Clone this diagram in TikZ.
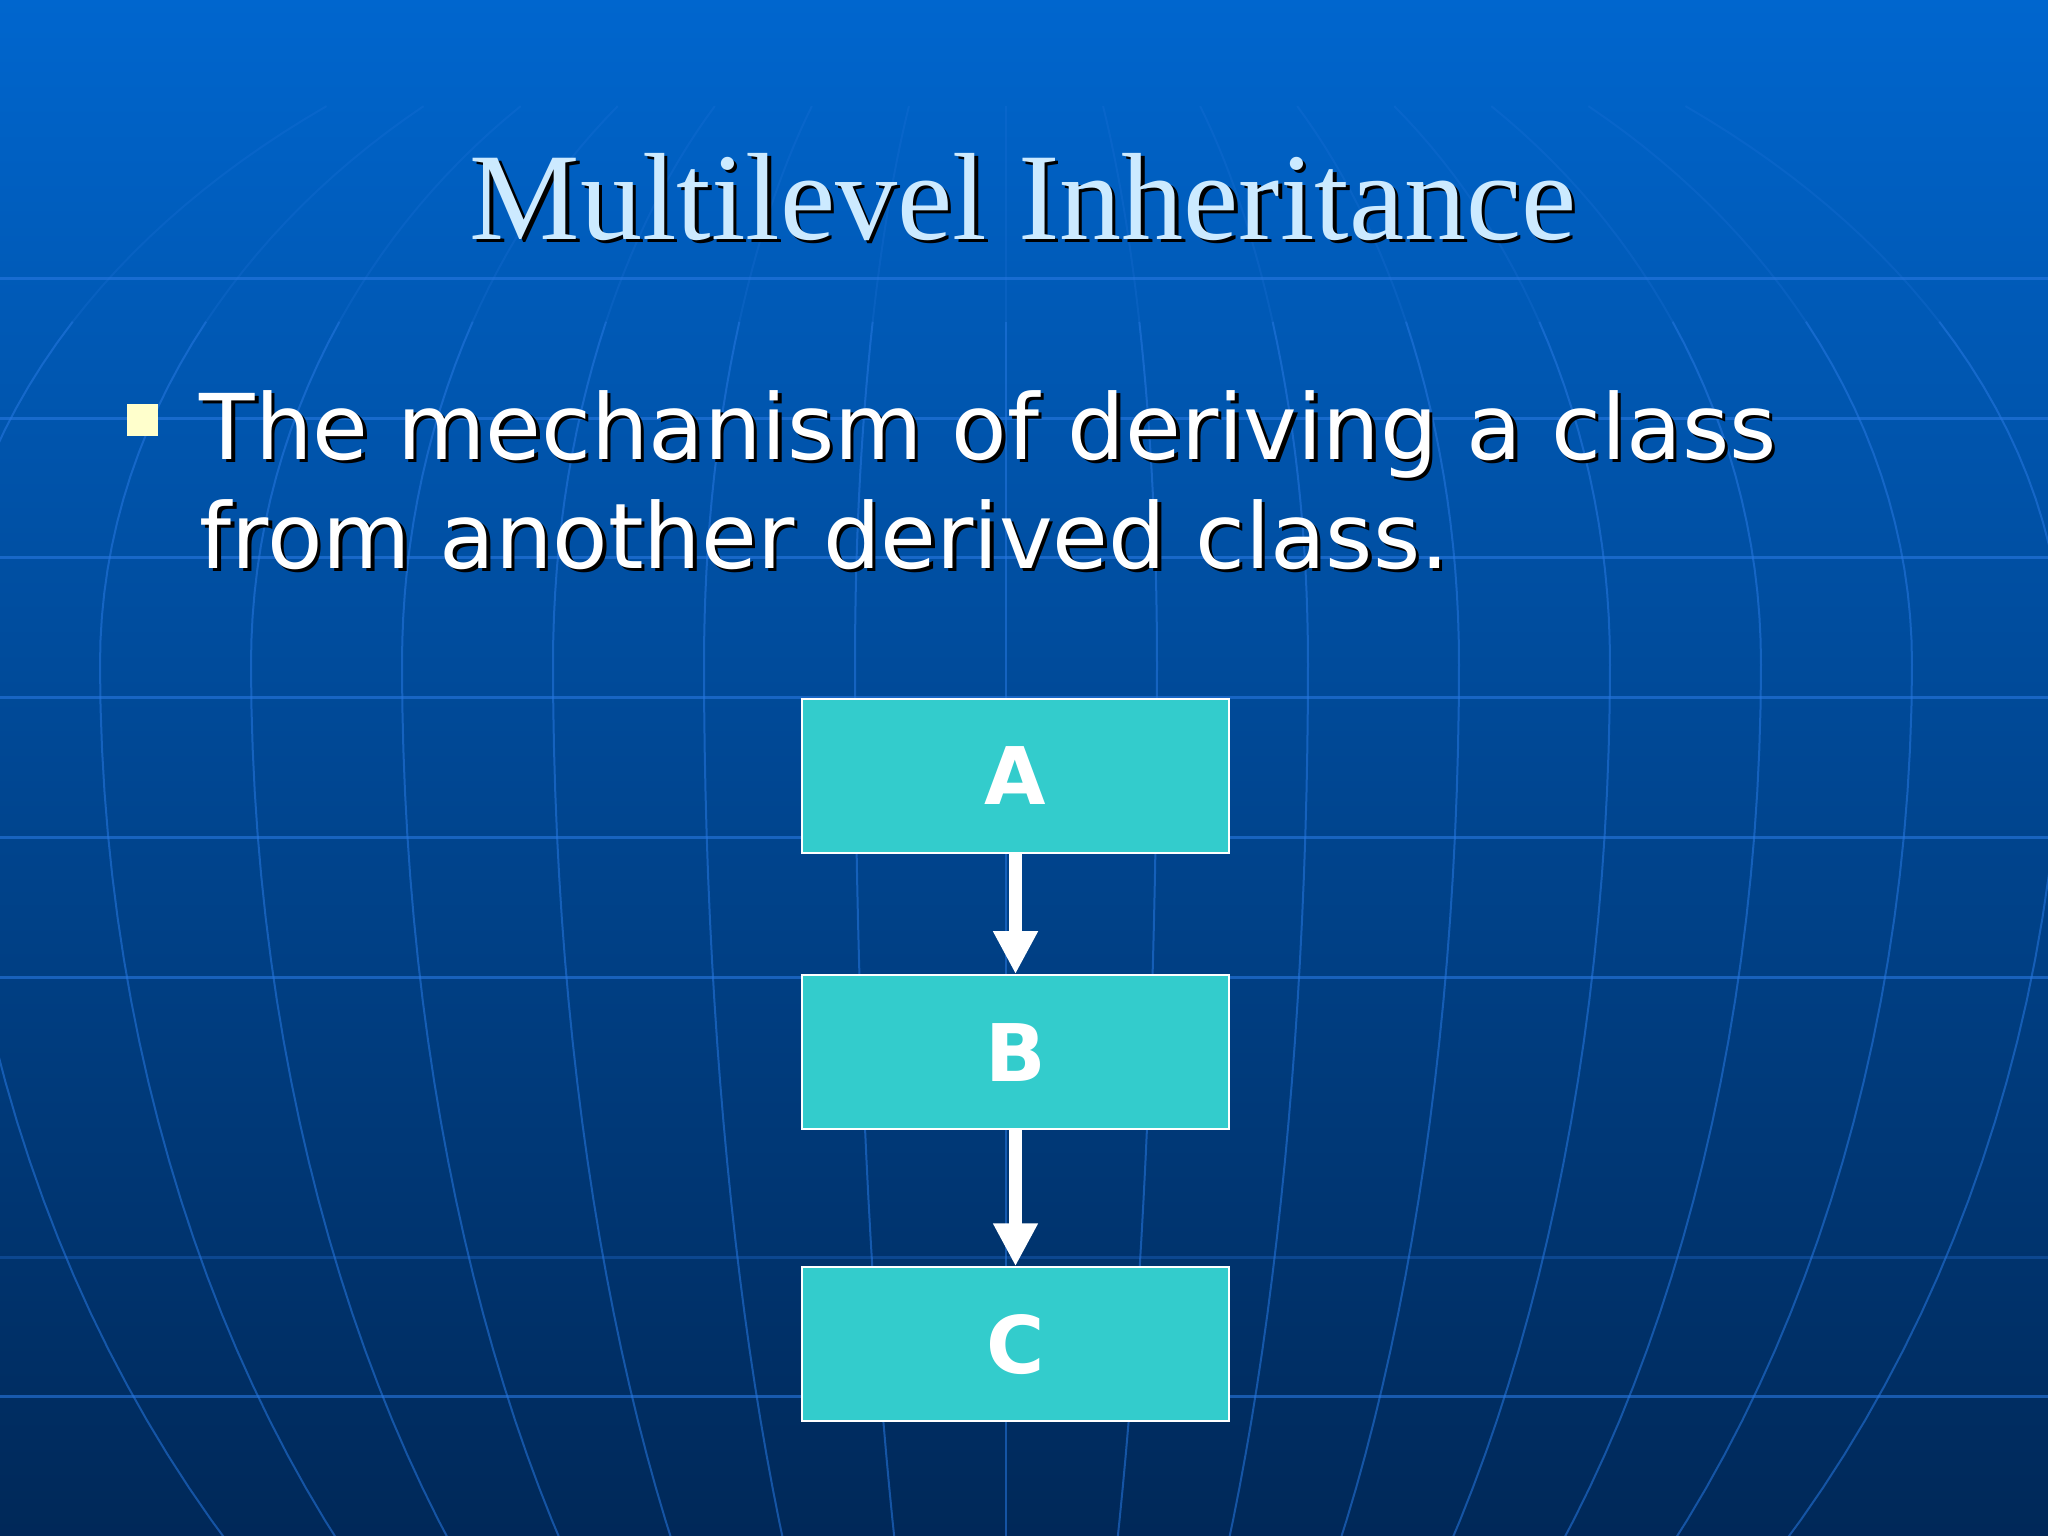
\documentclass[tikz,border=0pt]{standalone}
\usepackage{fontspec}
\newfontfamily\titlefont{Liberation Serif}
\newfontfamily\bodyfont{DejaVu Sans}
\usetikzlibrary{arrows.meta,positioning}
\definecolor{bgtop}{RGB}{0,102,206}
\definecolor{bgmid}{RGB}{0,72,148}
\definecolor{bgbot}{RGB}{0,40,88}
\definecolor{gridblue}{RGB}{40,120,225}
\definecolor{titleblue}{RGB}{204,234,255}
\definecolor{bulletyellow}{RGB}{255,255,204}
\definecolor{boxteal}{RGB}{51,204,204}
\newcommand{\shadownode}[4]{\node[#1,text=black,xshift=0.035cm,yshift=-0.035cm] at (#3) {#4};
  \node[#1] (#2) at (#3) {#4};}

\begin{document}
\begin{tikzpicture}[x=0.01cm,y=-0.01cm,
  classbox/.style={draw=white,line width=0.02cm,fill=boxteal,minimum width=4.27cm,minimum height=1.54cm,
    inner sep=0pt,text=white,font=\bodyfont\bfseries\fontsize{22.6}{27}\selectfont},
  inherit/.style={-{Triangle[length=0.43cm,width=0.42cm]},white,line width=0.13cm},
  titletext/.style={anchor=base,inner sep=0pt,text=titleblue,font=\titlefont\fontsize{35.3}{42}\selectfont},
  bodytext/.style={anchor=base west,inner sep=0pt,text=white,font=\bodyfont\fontsize{25.8}{31}\selectfont},
  parallel/.style={gridblue,line width=0.03cm,opacity=0.6},
  meridian/.style={gridblue,line width=0.02cm,opacity=0.55}]
\useasboundingbox (0,0) rectangle (2048,1536);
\shade[top color=bgtop,middle color=bgmid,bottom color=bgbot] (0,0) rectangle (2048,1536);
\begin{scope}
\clip (0,0) rectangle (2048,1536);
\foreach \y in {278,418,557,697,837,977,1396}
  \draw[parallel] (0,\y) -- (2048,\y);
\draw[parallel,opacity=0.3] (0,1257) -- (2048,1257);
\foreach \k in {-7,...,7} {
  \draw[meridian] plot[domain=-45:28,samples=40] ({1006+151*(\k)*cos(\x)},{663-(\x>0 ? 727 : 1300)*sin(\x)});
  \draw[meridian,opacity=0.2] plot[domain=28:50,samples=15] ({1006+151*(\k)*cos(\x)},{663-727*sin(\x)});
}
\end{scope}

\shadownode{titletext}{title}{1023,239}{Multilevel Inheritance}
\node[fill=bulletyellow,minimum width=0.31cm,minimum height=0.32cm,inner sep=0pt] (bullet) at (142.5,420) {};
\shadownode{bodytext}{line1}{199,459}{The mechanism of deriving a class}
\shadownode{bodytext}{line2}{199,568}{from another derived class.}

\node[classbox] (A) at (1015.5,776) {A};
\node[classbox,below=1.2cm of A] (B) {B};
\node[classbox,below=1.36cm of B] (C) {C};
\draw[inherit] (A) -- (B);
\draw[inherit] (B) -- (C);
\end{tikzpicture}
\end{document}
